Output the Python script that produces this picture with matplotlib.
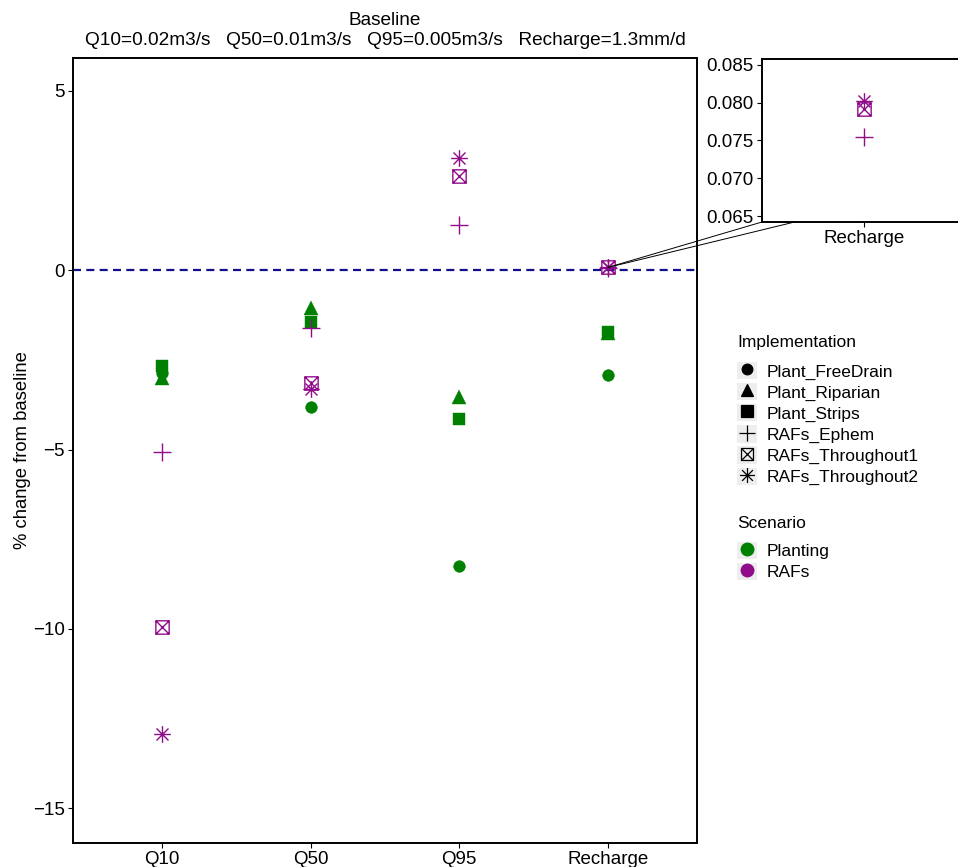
import numpy as np
import matplotlib
matplotlib.use('Agg')
import matplotlib.pyplot as plt
from matplotlib.path import Path
from matplotlib.lines import Line2D
from matplotlib.patches import Rectangle, ConnectionPatch
from matplotlib.legend_handler import HandlerTuple

plt.rcParams['font.family'] = ['Liberation Sans', 'DejaVu Sans']

## data

stats = ['Q10', 'Q50', 'Q95', 'Recharge']
free_drain  = [-2.85, -3.81, -8.25, -2.92]
riparian    = [-2.99, -1.06, -3.54, -1.76]
strips      = [-2.66, -1.43, -4.14, -1.71]
ephem       = [-5.07, -1.62, 1.26, 0.0754]
throughout1 = [-9.96, -3.13, 2.62, 0.0791]
throughout2 = [-12.92, -3.31, 3.14, 0.0802]

impl_names = ['Plant_FreeDrain', 'Plant_Riparian', 'Plant_Strips',
              'RAFs_Ephem', 'RAFs_Throughout1', 'RAFs_Throughout2']
impl_values = [free_drain, riparian, strips, ephem, throughout1, throughout2]
impl_scenario = ['Planting', 'Planting', 'Planting', 'RAFs', 'RAFs', 'RAFs']

scenario_names = ['Planting', 'RAFs']
scenario_colors = {'Planting': '#008000', 'RAFs': '#900C8A'}

title_top = 'Baseline'
title_bottom = 'Q10=0.02m3/s   Q50=0.01m3/s   Q95=0.005m3/s   Recharge=1.3mm/d'

## marker shapes (ggplot style)

box_x = Path([(-1, -1), (1, -1), (1, 1), (-1, 1), (-1, -1), (1, 1), (-1, 1), (1, -1)],
             [Path.MOVETO, Path.LINETO, Path.LINETO, Path.LINETO, Path.LINETO,
              Path.LINETO, Path.MOVETO, Path.LINETO])
d = 0.72
star = Path([(0, -1), (0, 1), (-1, 0), (1, 0), (-d, -d), (d, d), (-d, d), (d, -d)],
            [Path.MOVETO, Path.LINETO] * 4)

styles = {
    'Plant_FreeDrain':  dict(marker='o', markersize=8.5, filled=True),
    'Plant_Riparian':   dict(marker='^', markersize=10, filled=True),
    'Plant_Strips':     dict(marker='s', markersize=8.8, filled=True),
    'RAFs_Ephem':       dict(marker='+', markersize=13, filled=False),
    'RAFs_Throughout1': dict(marker=box_x, markersize=9.6, filled=False),
    'RAFs_Throughout2': dict(marker=star, markersize=12, filled=False),
}


def draw_points(ax):
    x = np.arange(1, len(stats) + 1)
    for name, vals, scen in zip(impl_names, impl_values, impl_scenario):
        st = styles[name]
        col = scenario_colors[scen]
        ax.plot(x, vals, linestyle='none', marker=st['marker'], markersize=st['markersize'],
                color=col, markerfacecolor=col if st['filled'] else 'none',
                markeredgecolor=col, markeredgewidth=0.3 if st['filled'] else 1.0, zorder=3)


fig = plt.figure(figsize=(9.58, 8.67), dpi=100)

ax = fig.add_axes([73 / 958, 24 / 867, 624 / 958, 785 / 867])
ax.axhline(0, color='#10108A', linewidth=1.6, linestyle=(0, (3.6, 2.4)), zorder=1)
draw_points(ax)
ax.set_xlim(0.4, 4.6)
ax.set_ylim(-15.97, 5.92)
ax.set_xticks(np.arange(1, 5))
ax.set_xticklabels(stats)
ax.set_yticks([-15, -10, -5, 0, 5])
ax.set_yticklabels(['\u221215', '\u221210', '\u22125', '0', '5'])
ax.tick_params(labelsize=13.5, length=3.5, width=0.8, colors='black', pad=2.5)
for s in ax.spines.values():
    s.set_linewidth(1.4)
ax.set_ylabel('% change from baseline', fontsize=13.3, labelpad=1)
ax.set_title(title_top + '\n' + title_bottom, fontsize=13.7, linespacing=1.25, pad=9.5)

# zoom inset on recharge
axin = fig.add_axes([762 / 958, 645 / 867, 204 / 958, 163 / 867])
draw_points(axin)
axin.set_xlim(3.4, 4.6)
axin.set_ylim(0.06421, 0.08575)
axin.set_xticks([4])
axin.set_xticklabels(['Recharge'])
axin.set_yticks([0.065, 0.070, 0.075, 0.080, 0.085])
axin.set_yticklabels(['0.065', '0.070', '0.075', '0.080', '0.085'])
axin.tick_params(labelsize=13.5, length=3.5, width=0.8, pad=2.5)
for s in axin.spines.values():
    s.set_linewidth(1.4)

for xb in [0.0, 0.16]:
    con = ConnectionPatch(xyA=(4, 0.08), coordsA='data', axesA=ax,
                          xyB=(xb, 0.0), coordsB='axes fraction', axesB=axin,
                          color='black', linewidth=0.7)
    fig.add_artist(con)

# legends
key_bg = '#EEEEEE'
impl_handles = []
for name in impl_names:
    st = styles[name]
    ms = st['markersize'] * 0.9
    h = Line2D([], [], linestyle='none', marker=st['marker'], markersize=ms, color='black',
               markerfacecolor='black' if st['filled'] else 'none', markeredgewidth=0.9)
    impl_handles.append((Rectangle((0, 0), 1, 1, facecolor=key_bg, edgecolor='none'), h))

scen_handles = []
for scen in scenario_names:
    h = Line2D([], [], linestyle='none', marker='o', markersize=9, color=scenario_colors[scen])
    scen_handles.append((Rectangle((0, 0), 1, 1, facecolor=key_bg, edgecolor='none'), h))

leg_fs = 12.5
leg_kw = dict(frameon=False, fontsize=leg_fs, handlelength=1.15, handleheight=1.15,
              labelspacing=0.2, handletextpad=0.57, borderpad=0, borderaxespad=0,
              handler_map={tuple: HandlerTuple(ndivide=1)}, loc='upper left')
fig.text(737 / 958, 1 - 343 / 867, 'Implementation', fontsize=leg_fs, va='center', ha='left')
leg1 = fig.legend(impl_handles, impl_names, bbox_to_anchor=(737 / 958, 1 - 362 / 867), **leg_kw)
fig.text(737 / 958, 1 - 523 / 867, 'Scenario', fontsize=leg_fs, va='center', ha='left')
leg2 = fig.legend(scen_handles, scenario_names, bbox_to_anchor=(737 / 958, 1 - 542 / 867), **leg_kw)

fig.savefig('out.png', dpi=100)
